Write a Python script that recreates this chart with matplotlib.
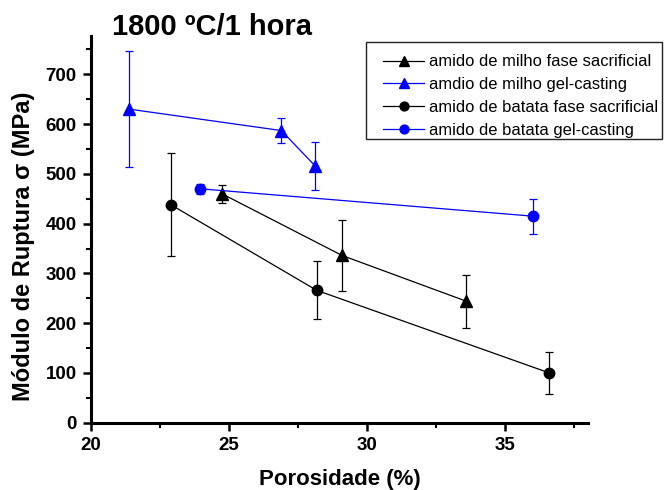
import matplotlib
matplotlib.use('Agg')
import matplotlib.pyplot as plt
from matplotlib.ticker import MultipleLocator
from matplotlib.patches import Rectangle

plt.rcParams['font.family'] = ['Liberation Sans', 'DejaVu Sans']

# Data
milho_sac_x = [24.75, 29.1, 33.6]
milho_sac_y = [460, 336, 244]
milho_sac_e = [18, 72, 53]

milho_gel_x = [21.4, 26.9, 28.12]
milho_gel_y = [630, 587, 516]
milho_gel_e = [117, 25, 48]

batata_sac_x = [22.9, 28.18, 36.6]
batata_sac_y = [438, 266, 100]
batata_sac_e = [103, 58, 43]

batata_gel_x = [23.96, 36.0]
batata_gel_y = [470, 415]
batata_gel_e = [10, 35]

labels = ['amido de milho fase sacrificial',
          'amdio de milho gel-casting',
          'amido de batata fase sacrificial',
          'amido de batata gel-casting']

W, H = 664, 490
fig = plt.figure(figsize=(W / 100, H / 100), dpi=100)
ax = fig.add_axes([90.7 / W, 1 - 422.7 / H, (588 - 90.7) / W, (422.7 - 36) / H])

common = dict(lw=0.9, elinewidth=0.9, capsize=3, capthick=0.9)
h1 = ax.errorbar(milho_sac_x, milho_sac_y, yerr=milho_sac_e, fmt='-^', color='black', ms=8.5, **common)
h2 = ax.errorbar(milho_gel_x, milho_gel_y, yerr=milho_gel_e, fmt='-^', color='#0000ff', ms=8.5, **common)
h3 = ax.errorbar(batata_sac_x, batata_sac_y, yerr=batata_sac_e, fmt='-o', color='black', ms=7.5, **common)
h4 = ax.errorbar(batata_gel_x, batata_gel_y, yerr=batata_gel_e, fmt='-o', color='#0000ff', ms=7.5, **common)

ax.set_xlim(20, 38)
ax.set_ylim(0, 777)
ax.xaxis.set_major_locator(MultipleLocator(5))
ax.xaxis.set_minor_locator(MultipleLocator(2.5))
ax.yaxis.set_major_locator(MultipleLocator(100))
ax.yaxis.set_minor_locator(MultipleLocator(50))

for s in ['top', 'right']:
    ax.spines[s].set_visible(False)
for s in ['left', 'bottom']:
    ax.spines[s].set_linewidth(2.2)

ax.tick_params(which='major', direction='out', length=6, width=1.8, pad=4)
ax.tick_params(which='minor', direction='out', length=3.5, width=1.5)
for lab in ax.get_xticklabels() + ax.get_yticklabels():
    lab.set_fontweight('bold')
    lab.set_fontsize(13.5)

fig.text(111.7 / W, 1 - 35 / H, '1800 ºC/1 hora', fontsize=21, fontweight='bold',
         ha='left', va='baseline')
fig.text(340 / W, 1 - 484.5 / H, 'Porosidade (%)', fontsize=16, fontweight='bold',
         ha='center', va='baseline')
fig.text(24 / W, 1 - 246.5 / H, 'Módulo de Ruptura σ (MPa)', fontsize=17, fontweight='bold',
         ha='center', va='center', rotation=90)

# legend frame drawn at the reference position, legend entries placed inside
fig.add_artist(Rectangle((366 / W, 1 - 139 / H), (662 - 366) / W, (139 - 41.7) / H,
                         transform=fig.transFigure, fill=False, edgecolor='#222222',
                         lw=1.0, zorder=5))
leg = ax.legend(handles=[h1[0], h2[0], h3[0], h4[0]], labels=labels,
                loc='upper left', bbox_to_anchor=(383 / W, 1 - 54.5 / H),
                bbox_transform=fig.transFigure, borderaxespad=0, fontsize=11.9,
                frameon=False, handlelength=2.5, handletextpad=0.3,
                labelspacing=0.47, borderpad=0.0, markerscale=0.85)

fig.savefig('out.png', dpi=100)
